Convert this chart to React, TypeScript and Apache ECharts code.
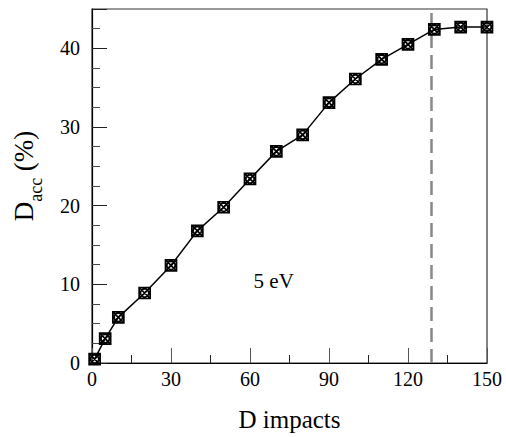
import React, { useEffect, useRef } from 'react';
import * as echarts from 'echarts';

const impacts = [1, 5, 10, 20, 30, 40, 50, 60, 70, 80, 90, 100, 110, 120, 130, 140, 150];
const dacc = [0.5, 3.1, 5.8, 8.9, 12.4, 16.8, 19.8, 23.4, 26.9, 29.0, 33.1, 36.1, 38.6, 40.5, 42.4, 42.7, 42.7];
const thresholdX = 129;
const annotationText = '5 eV';
const annotationPos = [69, 10.4];

const FONT = "'Liberation Serif', 'Times New Roman', serif";
const MARKER =
  'path://M0,0 L20,0 L20,20 L0,20 Z M0,0 L20,20 M20,0 L0,20 M17.5,10 A7.5,7.5 0 1 1 2.5,10 A7.5,7.5 0 1 1 17.5,10 Z';

export default function App() {
  const ref = useRef<HTMLDivElement>(null);
  useEffect(() => {
    document.body.style.margin = '0';
    const chart = echarts.init(ref.current!, null, { renderer: 'svg' });
    const data = impacts.map((x, i) => [x, dacc[i]]);
    chart.setOption({
      animation: false,
      backgroundColor: '#fff',
      grid: { left: 92, top: 9, right: 19, bottom: 69, show: true, borderColor: '#333', borderWidth: 1.2 },
      xAxis: {
        type: 'value',
        min: 0,
        max: 150,
        interval: 30,
        name: 'D impacts',
        nameLocation: 'middle',
        nameGap: 44,
        nameTextStyle: { fontFamily: FONT, fontSize: 25, color: '#000' },
        axisLine: { show: true, lineStyle: { color: '#000', width: 1.2 } },
        axisTick: { show: true, inside: true, length: 15, lineStyle: { color: '#555' } },
        minorTick: { show: true, splitNumber: 2, length: 8, lineStyle: { color: '#222' } },
        splitLine: { show: false },
        axisLabel: { fontFamily: FONT, fontSize: 20, color: '#000', margin: 6 },
      },
      yAxis: {
        type: 'value',
        min: 0,
        max: 45,
        interval: 10,
        name: '{a|D}{b|acc}{a| (%)}',
        nameLocation: 'middle',
        nameGap: 52,
        nameRotate: 90,
        nameTextStyle: {
          fontFamily: FONT,
          color: '#000',
          padding: [0, 0, 0, 20],
          rich: {
            a: { fontFamily: FONT, fontSize: 27, color: '#000', lineHeight: 30, verticalAlign: 'top' },
            b: { fontFamily: FONT, fontSize: 18, color: '#000', lineHeight: 18, padding: [17, 0, 0, 0], verticalAlign: 'top' },
          },
        },
        axisLine: { show: true, lineStyle: { color: '#000', width: 1.2 } },
        axisTick: { show: true, inside: true, length: 15, lineStyle: { color: '#222' } },
        minorTick: { show: true, splitNumber: 4, length: 8, lineStyle: { color: '#444' } },
        splitLine: { show: false },
        axisLabel: {
          fontFamily: FONT,
          fontSize: 20,
          color: '#000',
          margin: 12,
          formatter: (v: number) => (v % 10 === 0 && v <= 40 ? String(v) : ''),
        },
      },
      series: [
        {
          type: 'line',
          data,
          symbol: MARKER,
          symbolSize: 11,
          showAllSymbol: true,
          lineStyle: { color: '#000', width: 1.5 },
          itemStyle: { color: 'rgba(0,0,0,0)', borderColor: '#000', borderWidth: 1.7 },
          z: 3,
          markLine: {
            silent: true,
            symbol: 'none',
            label: { show: false },
            lineStyle: { color: '#888', width: 2.5, type: [14, 7] },
            data: [{ xAxis: thresholdX }],
            z: 2,
          },
        },
      ],
    });
    const p = chart.convertToPixel({ gridIndex: 0 }, annotationPos) as number[];
    chart.setOption({
      graphic: [
        {
          type: 'text',
          x: p[0],
          y: p[1],
          style: {
            text: annotationText,
            font: `21px ${FONT}`,
            fill: '#000',
            textAlign: 'center',
            textVerticalAlign: 'middle',
          },
        },
      ],
    });
    return () => chart.dispose();
  }, []);
  return <div ref={ref} style={{ width: 506, height: 437 }} />;
}
